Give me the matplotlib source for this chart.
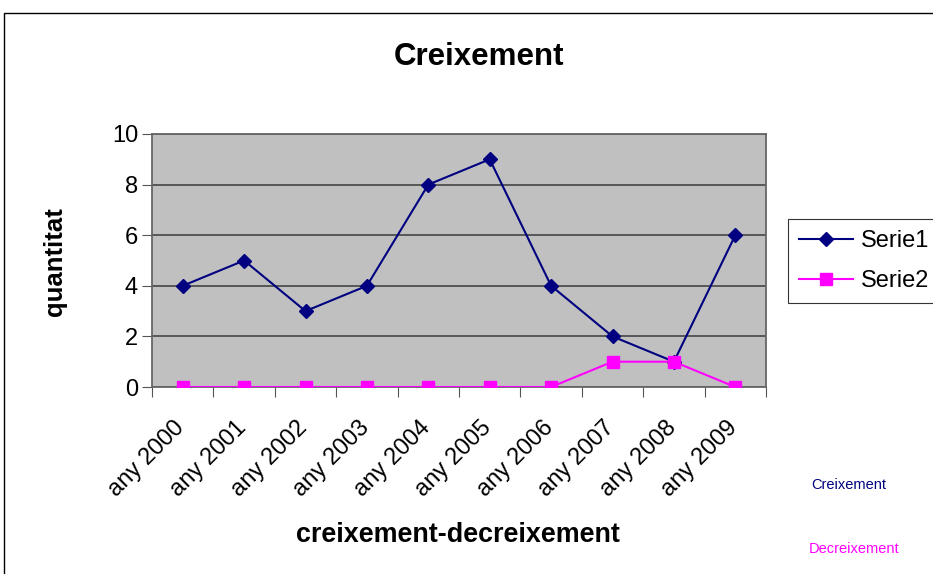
import matplotlib
matplotlib.use("Agg")
import matplotlib.pyplot as plt
from matplotlib.patches import Rectangle
from matplotlib.transforms import ScaledTranslation, blended_transform_factory

categories = ["any 2000", "any 2001", "any 2002", "any 2003", "any 2004",
              "any 2005", "any 2006", "any 2007", "any 2008", "any 2009"]
serie1 = [4, 5, 3, 4, 8, 9, 4, 2, 1, 6]
serie2 = [0, 0, 0, 0, 0, 0, 0, 1, 1, 0]
yticks = [0, 2, 4, 6, 8, 10]

plt.rcParams['font.family'] = ['Liberation Sans', 'DejaVu Sans']

fig = plt.figure(figsize=(9.33, 5.74), dpi=100)
fig.patch.set_facecolor('white')
# outer chart border
fig.add_artist(Rectangle((4/933, -0.01), 1.0, 1 - 13/574 + 0.01, transform=fig.transFigure,
                         fill=False, edgecolor='black', linewidth=1.0))

ax = fig.add_axes([152/933, 1 - 387/574, 614/933, (387 - 134)/574])
ax.set_facecolor('#C0C0C0')
x = list(range(len(categories)))
ax.plot(x, serie1, color='#000080', marker='D', markersize=7.5, linewidth=1.5, label='Serie1', zorder=3)
ax.plot(x, serie2, color='#FF00FF', marker='s', markersize=8.5, linewidth=1.5, label='Serie2', zorder=4)

ax.set_xlim(-0.5, len(categories) - 0.5)
ax.set_ylim(0, 10)
ax.set_yticks(yticks)
ax.set_yticklabels([str(v) for v in yticks], fontsize=17)
ax.yaxis.grid(True, color='#3a3a3a', linewidth=1.1)
ax.set_axisbelow(True)
ax.set_xticks([i + 0.5 for i in range(-1, len(categories))])
ax.set_xticklabels([])
ax.tick_params(axis='x', length=7, color='#555555', direction='out')
ax.tick_params(axis='y', length=7, color='#555555', direction='out', pad=3)
for s in ax.spines.values():
    s.set_color('#666666')
    s.set_linewidth(1.3)

# category labels, rotated 45 degrees, placed below each category position
base = blended_transform_factory(ax.transData, ax.transAxes)
off = ScaledTranslation(-9/100, -30/100, fig.dpi_scale_trans)
for xi, cat in zip(x, categories):
    ax.text(xi, 0, cat, transform=base + off, rotation=45, ha='right', va='top',
            rotation_mode='anchor', fontsize=17, clip_on=False)

fig.text(479/933, 1 - 57/574, 'Creixement', ha='center', va='center', fontsize=22.5, fontweight='bold')
fig.text(458/933, 1 - 535/574, 'creixement-decreixement', ha='center', va='center', fontsize=19.4, fontweight='bold')
fig.text(55/933, 1 - 262/574, 'quantitat', ha='center', va='center', rotation=90, fontsize=18.5, fontweight='bold')

leg = ax.legend(loc='upper left', bbox_to_anchor=(788/933, 1 - 219/574), bbox_transform=fig.transFigure,
                frameon=True, fancybox=False, edgecolor='black', fontsize=17,
                handlelength=2.3, handletextpad=0.3, borderpad=0.47, labelspacing=0.76,
                borderaxespad=0)
leg.get_frame().set_linewidth(0.8)

fig.text(849/933, 1 - 485/574, 'Creixement', ha='center', va='center', fontsize=10.5, color='#000080')
fig.text(854/933, 1 - 549/574, 'Decreixement', ha='center', va='center', fontsize=10.5, color='#FF00FF')

fig.savefig('out.png', dpi=100)
